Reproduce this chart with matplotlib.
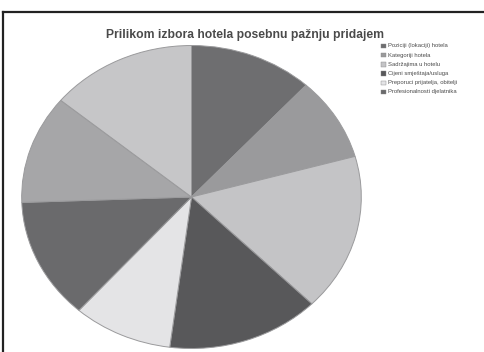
import matplotlib
matplotlib.use("Agg")
import matplotlib.pyplot as plt
from matplotlib.lines import Line2D

title = "Prilikom izbora hotela posebnu pažnju pridajem"
categories = [
    "Poziciji (lokaciji) hotela",
    "Kategoriji hotela",
    "Sadržajima u hotelu",
    "Cijeni smještaja/usluga",
    "Preporuci prijatelja, obitelji",
    "Profesionalnosti djelatnika",
    "Ostalo",
    "Ne znam",
]
shares = [11.8, 8.9, 16.8, 14.6, 9.5, 12.9, 11.6, 14.0]
colors = ["#6e6e70", "#9a9a9c", "#c4c4c6", "#58585a",
          "#e4e4e6", "#6a6a6c", "#a6a6a8", "#c6c6c8"]
legend_count = 6

W, H = 485, 352
fig = plt.figure(figsize=(W / 100, H / 100), dpi=100)
fig.patch.set_facecolor("white")

# pie axes in pixel placement (elliptical pie: aspect left free)
left, right, top, bottom = 20, 363, 44, 350
ax = fig.add_axes([left / W, 1 - bottom / H, (right - left) / W, (bottom - top) / H])
wedges, _ = ax.pie(shares, colors=colors, startangle=90, counterclock=False,
                   radius=1.0,
                   wedgeprops=dict(edgecolor="#9a9a9c", linewidth=0.7))
ax.set_xlim(-1.01, 1.01)
ax.set_ylim(-1.01, 1.01)
ax.set_aspect("auto")
ax.axis("off")

fig.text(245 / W, 1 - 35 / H, title, ha="center", va="center",
         fontsize=8.7, fontweight="bold", color="#4a4a4a",
         family="Liberation Sans")

# legend: first six categories
y0, dy = 46, 9.2
for i in range(legend_count):
    y = 1 - (y0 + i * dy) / H
    fig.patches.append(plt.Rectangle((381 / W, y - 2.2 / H), 5 / W, 4.4 / H,
                                     transform=fig.transFigure,
                                     facecolor=colors[i], edgecolor="#888888",
                                     linewidth=0.3))
    fig.text(388 / W, y, categories[i], ha="left", va="center",
             fontsize=4.2, color="#4a4a4a", family="Liberation Sans")

# frame lines
fig.add_artist(Line2D([3 / W, 1], [1 - 12 / H, 1 - 12 / H],
                      transform=fig.transFigure, color="#222222", linewidth=1.6))
fig.add_artist(Line2D([3 / W, 3 / W], [0, 1 - 12 / H],
                      transform=fig.transFigure, color="#222222", linewidth=1.6))

fig.savefig("out.png", dpi=100, facecolor="white")
